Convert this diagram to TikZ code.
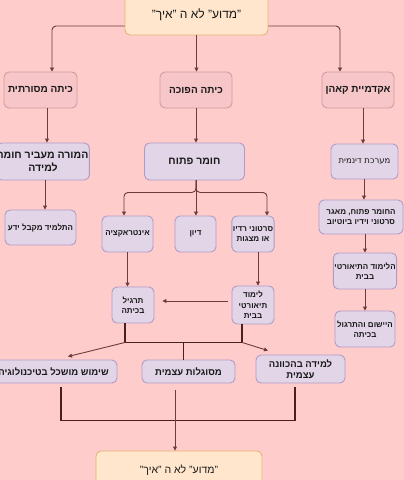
\documentclass[tikz,border=0pt]{standalone}
\usepackage{fontspec}
\setmainfont[Script=Hebrew]{Liberation Sans}
\newfontfamily\altheb[Script=Hebrew]{DejaVu Sans}
\TeXXeTstate=1
\usetikzlibrary{arrows.meta,calc}
\newcommand\hb[1]{\beginR #1\endR}
\definecolor{bgc}{HTML}{FFCCCC}
\definecolor{orgf}{HTML}{FFE6CC}
\definecolor{orgd}{HTML}{E3B574}
\definecolor{pnkf}{HTML}{F7C6C8}
\definecolor{pnkd}{HTML}{D69A9E}
\definecolor{lavf}{HTML}{E1D5E7}
\definecolor{lavd}{HTML}{B19AC4}
\definecolor{lnc}{HTML}{6E3A3A}
\definecolor{busc}{HTML}{4A1F1F}
\tikzset{
  box/.style={rounded corners=5pt, line width=0.9pt, align=center, inner sep=1pt, text=black!90},
  org/.style={box, fill=orgf, draw=orgd},
  pnk/.style={box, fill=pnkf, draw=pnkd, font=\bfseries\fontsize{10}{12}\selectfont},
  lav/.style={box, fill=lavf, draw=lavd},
  big/.style={font=\bfseries\fontsize{10.5}{13}\selectfont},
  small/.style={font=\bfseries\fontsize{8}{10.5}\selectfont},
  arr/.style={draw=lnc, line width=0.9pt, -{Triangle[length=4pt,width=4pt]}},
  bus/.style={draw=busc, line width=1.8pt},
  botl/.style={draw=busc, line width=1.3pt},
}
\begin{document}
\begin{tikzpicture}[x=1pt,y=-1pt]
\useasboundingbox (0,0) rectangle (404,480);
\clip (0,0) rectangle (404,480);
\fill[bgc] (0,0) rectangle (404,480);

% top and bottom
\node[org, font=\fontsize{12}{14}\selectfont, minimum width=143pt, minimum height=40pt] (top) at (196.5,15) {\hb{"מדוע"  לא ה "איך"}};
\node[org, font=\fontsize{10.5}{13}\selectfont, minimum width=166pt, minimum height=38pt] (bot) at (179,470) {\hb{"מדוע"  לא ה "איך"}};

% row 2
\node[pnk, minimum width=73pt, minimum height=36pt] (r2l) at (40.5,90) {\hb{כיתה מסורתית}};
\node[pnk, minimum width=72pt, minimum height=36pt] (r2m) at (196,90) {\hb{כיתה הפוכה}};
\node[pnk, minimum width=72pt, minimum height=36pt] (r2r) at (358,90) {\hb{אקדמיית קאהן}};

% row 3
\node[lav, big, minimum width=90pt, minimum height=37pt] (r3l) at (43,161.5) {\hb{המורה מעביר חומר}\\\hb{למידה}};
\node[lav, big, minimum width=100pt, minimum height=37pt] (r3m) at (194.5,161.5) {\hb{חומר פתוח}};
\node[lav, minimum width=67pt, minimum height=35pt, font=\altheb\fontsize{8.5}{10}\selectfont] (r3r) at (364.5,161.5) {\hb{מערכת  דינמית}};

% left column
\node[lav, small, minimum width=71pt, minimum height=35pt] (r4l) at (40.5,227.5) {\hb{התלמיד מקבל ידע}};

% middle row 4
\node[lav, small, minimum width=51pt, minimum height=36pt] (r4a) at (127.5,234) {\hb{אינטראקציה}};
\node[lav, small, minimum width=41pt, minimum height=36pt] (r4b) at (195.5,234) {\hb{דיון}};
\node[lav, small, minimum width=42pt, minimum height=36pt] (r4c) at (253,234) {\hb{סרטוני רדיו}\\\hb{או מצגות}};

% middle row 5
\node[lav, small, minimum width=42pt, minimum height=36pt] (r5a) at (133,305) {\hb{תרגיל}\\\hb{בכיתה}};
\node[lav, small, minimum width=42pt, minimum height=38pt] (r5b) at (253,305) {\hb{לימוד}\\\hb{תיאורטי}\\\hb{בבית}};

% right column
\node[lav, small, minimum width=84pt, minimum height=34pt] (R1) at (361,217) {\hb{החומר פתוח, מאגר}\\\hb{סרטוני וידיו ביוטיוב}};
\node[lav, small, minimum width=60pt, minimum height=36pt] (R2) at (365,271) {\hb{הלימוד התיאורטי}\\\hb{בבית}};
\node[lav, small, minimum width=60pt, minimum height=36pt] (R3) at (365,329) {\hb{היישום והתרגול}\\\hb{בכיתה}};

% row 6
\node[lav, font=\bfseries\fontsize{9.5}{12}\selectfont, minimum width=127pt, minimum height=23pt] (r6a) at (53.5,371.5) {\hb{שימוש מושכל בטיכנולוגיה}};
\node[lav, font=\bfseries\fontsize{9.5}{12}\selectfont, minimum width=93pt, minimum height=23pt] (r6b) at (188.5,371.5) {\hb{מסוגלות עצמית}};
\node[lav, font=\bfseries\fontsize{9.5}{11.5}\selectfont, minimum width=89pt, minimum height=28pt] (r6c) at (300.5,369) {\hb{למידה בהכוונה}\\\hb{עצמית}};

% connectors from top
\draw[arr] (top.south) -- (top.south |- r2m.north);
\draw[arr, rounded corners=4pt] ($(top.west)+(0,11)$) -| ($(r2l.north)+(11.5,0)$);
\draw[arr, rounded corners=4pt] ($(top.east)+(0,11)$) -| ($(r2r.north)+(-18,0)$);

% row2 -> row3
\draw[arr] ($(r2l.south)+(6.5,0)$) coordinate (a1) -- (a1 |- r3l.north);
\draw[arr] (r2m.south) -- (r2m.south |- r3m.north);
\draw[arr] ($(r2r.south)+(5,0)$) coordinate (a2) -- (a2 |- r3r.north);

% left column
\draw[arr] ($(r3l.south)+(2,0)$) coordinate (a3) -- (a3 |- r4l.north);

% middle split
\coordinate (stem) at ($(r3m.south)+(1.5,0)$);
\draw[arr, rounded corners=4pt] (stem) -- ++(0,12) -| ($(r4a.north)+(-3.5,0)$);
\draw[arr] (stem) -- (stem |- r4b.north);
\draw[arr, rounded corners=4pt] (stem) -- ++(0,12) -| ($(r4c.north)+(14,0)$);

% middle down
\draw[arr] (r4a.south) -- (r4a.south |- r5a.north);
\draw[arr] ($(r4c.south)+(5,0)$) coordinate (a4) -- (a4 |- r5b.north);
\draw[arr] ($(r5b.west)+(-4,-4)$) -- ($(r5a.east)+(8,-4)$);

% right column
\draw[arr] ($(r3r.south)+(-0.5,0)$) coordinate (a5) -- (a5 |- R1.north);
\draw[arr] (R2.north |- R1.south) -- (R2.north);
\draw[arr] (R2.south) -- (R3.north);

% bus
\coordinate (b1) at ($(r5a.south)+(-8,0)$);
\coordinate (b2) at ($(b1)+(0,19)$);
\coordinate (b4) at ($(r5b.south)+(-11,0)$);
\coordinate (b3) at (b2 -| b4);
\draw[bus] (b1) -- (b2) -- (b3) -- (b4);
\draw[bus] ($(b2)!0.5!(b3)$) coordinate (bm) -- (bm |- r6b.north);
\draw[arr] (b2) -- ($(r6a.north)+(14.5,-3)$);
\draw[arr] (b3) -- ($(r6c.north)+(-32.5,-4)$);

% bottom collector
\coordinate (c1) at ($(r6a.south)+(7.5,4)$);
\coordinate (c2) at ($(r6c.south)+(-5.5,4)$);
\draw[botl] (c1) -- ++(0,33) coordinate (c3) -- (c3 -| c2) -- (c2);
\draw[arr, line width=0.8pt] ($(r6b.south)+(-13.5,7)$) coordinate (c4) -- (c4 |- bot.north);
\end{tikzpicture}
\end{document}
